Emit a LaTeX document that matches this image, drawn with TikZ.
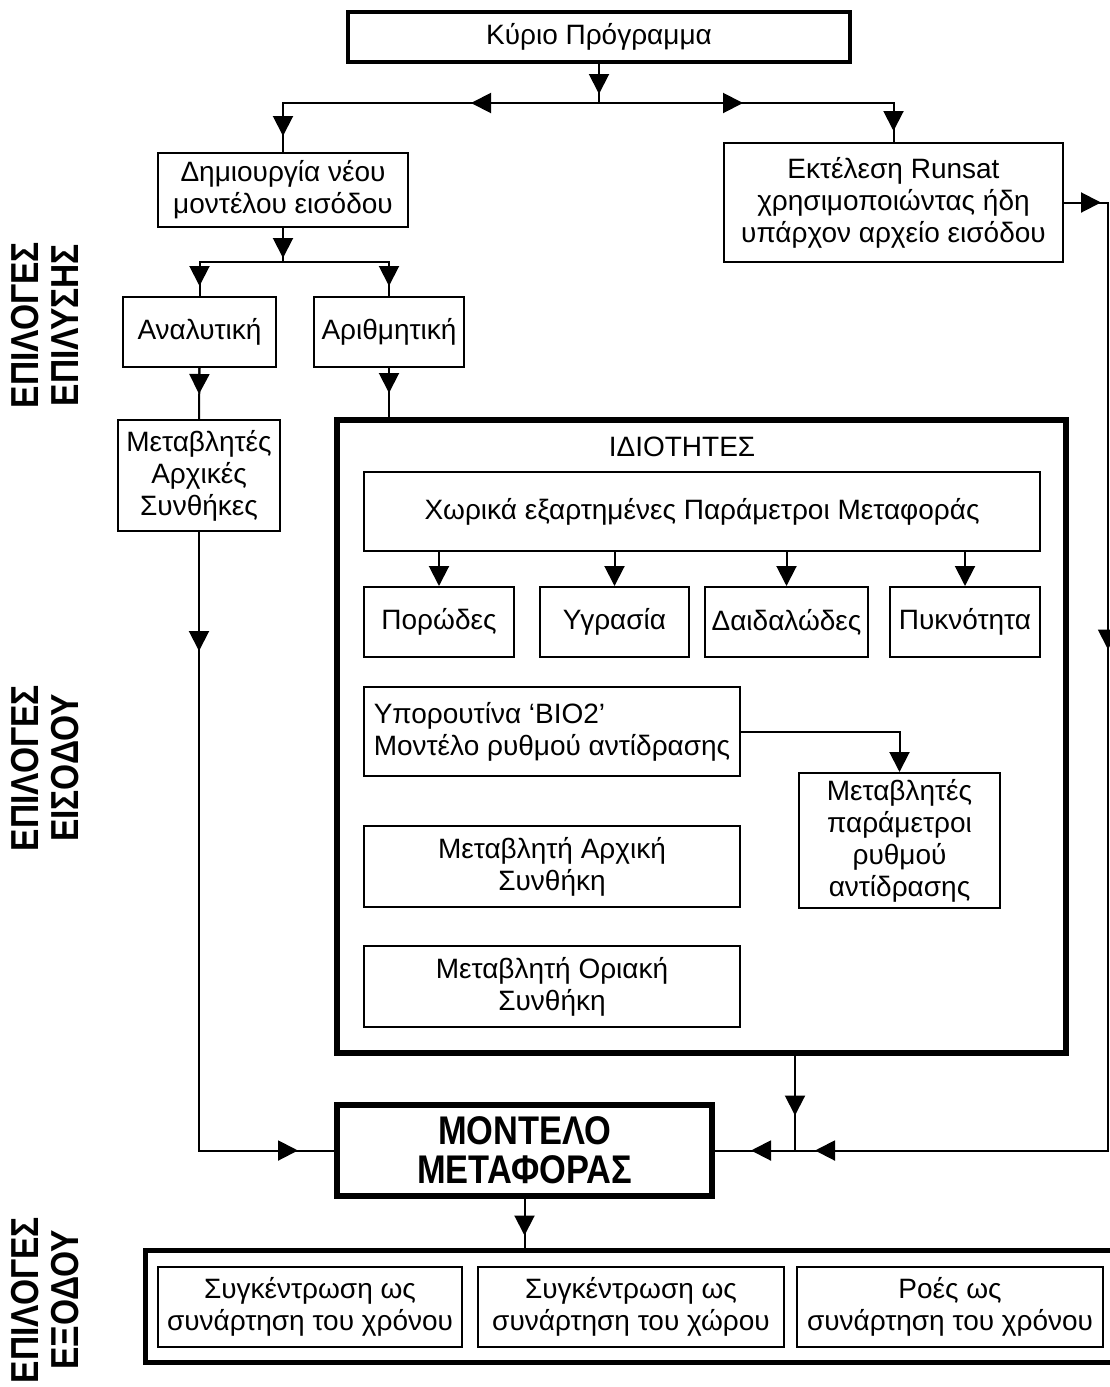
\documentclass[tikz,border=0pt]{standalone}
\usepackage{fontspec}
\setmainfont{Liberation Sans}
\newfontfamily\narrowbf[FakeStretch=0.86]{Liberation Sans Bold}
\usetikzlibrary{arrows.meta,calc}

\tikzset{
    box/.style={draw,line width=1pt,align=center,inner sep=2pt,font=\fontsize{14}{16}\selectfont},
    arr/.style={-{Triangle[length=10pt,width=10pt]}},
    sidelabel/.style={rotate=90,align=center,font=\fontsize{19.5}{20}\selectfont\narrowbf}
}

\begin{document}
\begin{tikzpicture}[x=0.5pt,y=-0.5pt,line width=1pt]
    \useasboundingbox (0,0) rectangle (1109,1387);

    % side labels
    \node[sidelabel] (solvelbl) at (45,325) {ΕΠΙΛΟΓΕΣ\\ΕΠΙΛΥΣΗΣ};
    \node[sidelabel] (inputlbl) at (45,768) {ΕΠΙΛΟΓΕΣ\\ΕΙΣΟΔΟΥ};
    \node[sidelabel] (outputlbl) at (45,1300) {ΕΠΙΛΟΓΕΣ\\ΕΞΟΔΟΥ};

    % top part
    \node[box,line width=2pt,minimum width=251pt,minimum height=25pt] (main) at (599,37) {Κύριο Πρόγραμμα};
    \node[box,minimum width=125pt,minimum height=37pt] (create) at (283,190) {Δημιουργία νέου\\μοντέλου εισόδου};
    \node[box,minimum width=169.5pt,minimum height=59.5pt] (runsat) at (893.5,202.5) {Εκτέλεση Runsat\\χρησιμοποιώντας ήδη\\υπάρχον αρχείο εισόδου};
    \node[box,minimum width=76.5pt,minimum height=35pt] (anal) at (199.5,332) {Αναλυτική};
    \node[box,minimum width=75pt,minimum height=35pt] (arith) at (389,332) {Αριθμητική};
    \node[box,minimum width=81pt,minimum height=55.5pt] (initvars) at (199,475.5) {Μεταβλητές\\Αρχικές\\Συνθήκες};

    % properties
    \node[box,line width=3pt,minimum width=364.5pt,minimum height=316.5pt] (props) at (701.5,736.5) {};
    \node[font=\fontsize{14}{16}\selectfont] (propstitle) at (682,447) {ΙΔΙΟΤΗΤΕΣ};
    \node[box,minimum width=338pt,minimum height=39.5pt] (spatial) at (702,511.5) {Χωρικά εξαρτημένες Παράμετροι Μεταφοράς};
    \node[box,minimum width=75pt,minimum height=35pt] (por) at (439,622) {Πορώδες};
    \node[box,minimum width=74.5pt,minimum height=35pt] (hum) at (614.5,622) {Υγρασία};
    \node[box,minimum width=81.5pt,minimum height=35pt] (tort) at (786.5,622) {Δαιδαλώδες};
    \node[box,minimum width=75pt,minimum height=35pt] (dens) at (965,622) {Πυκνότητα};
    \node[box,align=left,minimum width=188pt,minimum height=44.5pt] (bio) at (552,731.5) {Υπορουτίνα ‘BIO2’\\Μοντέλο ρυθμού αντίδρασης};
    \node[box,minimum width=100.5pt,minimum height=67.5pt] (rate) at (899.5,840.5) {Μεταβλητές\\παράμετροι\\ρυθμού\\αντίδρασης};
    \node[box,minimum width=188pt,minimum height=40.5pt] (initc) at (552,866.5) {Μεταβλητή Αρχική\\Συνθήκη};
    \node[box,minimum width=188pt,minimum height=40.5pt] (bndc) at (552,986.5) {Μεταβλητή Οριακή\\Συνθήκη};

    % model and output
    \node[box,line width=3pt,minimum width=187.5pt,minimum height=45.5pt,font=\fontsize{20}{19.5}\selectfont\narrowbf] (model) at (524.5,1150.5) {ΜΟΝΤΕΛΟ\\ΜΕΤΑΦΟΡΑΣ};
    \node[box,line width=2.5pt,minimum width=485pt,minimum height=56pt] (output) at (630,1306) {};
    \node[box,minimum width=152pt,minimum height=40pt] (outtime) at (310,1307) {Συγκέντρωση ως\\συνάρτηση του χρόνου};
    \node[box,minimum width=153pt,minimum height=40pt] (outspace) at (631,1307) {Συγκέντρωση ως\\συνάρτηση του χώρου};
    \node[box,minimum width=153pt,minimum height=40pt] (outflux) at (950,1307) {Ροές ως\\συνάρτηση του χρόνου};

    % connectors
    \coordinate (split) at (599,103);
    \draw (main.south) -- (split);
    \draw[arr] (main.south) -- ($(split)+(0,-9)$);
    \draw (split) -| (create.north);
    \draw (split) -| (runsat.north);
    \draw[arr] (split) -- ($(split)+(-128,0)$);
    \draw[arr] (split) -- ($(split)+(144,0)$);
    \draw[arr] (create.north |- split) -- ($(create.north)+(0,-16)$);
    \draw[arr] (runsat.north |- split) -- ($(runsat.north)+(0,-11)$);

    \coordinate (fork) at (283,262);
    \draw (create.south) -- (fork);
    \draw[arr] (create.south) -- ($(fork)+(0,-4)$);
    \draw (fork) -| (anal.north);
    \draw (fork) -| (arith.north);
    \draw[arr] (anal.north |- fork) -- ($(anal.north)+(0,-10)$);
    \draw[arr] (arith.north |- fork) -- ($(arith.north)+(0,-10)$);

    \draw (anal.south) -- (initvars.north);
    \draw[arr] (anal.south) -- ($(initvars.north)+(0,-25)$);
    \draw (arith.south) -- (arith.south |- props.north);
    \draw[arr] (arith.south) -- ($(arith.south |- props.north)+(0,-24)$);

    \foreach \n in {por,hum,tort,dens}
        \draw[arr] (\n.north |- spatial.south) -- (\n.north);
    \draw[arr] (bio.east) -| (rate.north);

    \coordinate (rc) at ($(runsat.east)+(44,0)$);
    \coordinate (rb) at (rc |- model.east);
    \coordinate (join) at (795,1150.5);
    \draw (runsat.east) -- (rc) -- (rb) -- (model.east);
    \draw[arr] (runsat.east) -- ($(rc)+(-7,0)$);
    \draw[arr] (rc) -- ($(rc)+(0,447)$);
    \draw[arr] (rb) -- ($(join)+(20,0)$);
    \draw[arr] (join) -- ($(model.east)+(36,0)$);
    \draw (join |- props.south) -- (join);
    \draw[arr] (join |- props.south) -- ($(join)+(0,-35)$);

    \coordinate (lb) at (initvars.south |- model.west);
    \draw (initvars.south) -- (lb) -- (model.west);
    \draw[arr] (initvars.south) -- ($(initvars.south)+(0,119)$);
    \draw[arr] (lb) -- ($(model.west)+(-36,0)$);

    \draw (model.south) -- (model.south |- output.north);
    \draw[arr] (model.south) -- ($(model.south |- output.north)+(0,-12)$);
\end{tikzpicture}
\end{document}
